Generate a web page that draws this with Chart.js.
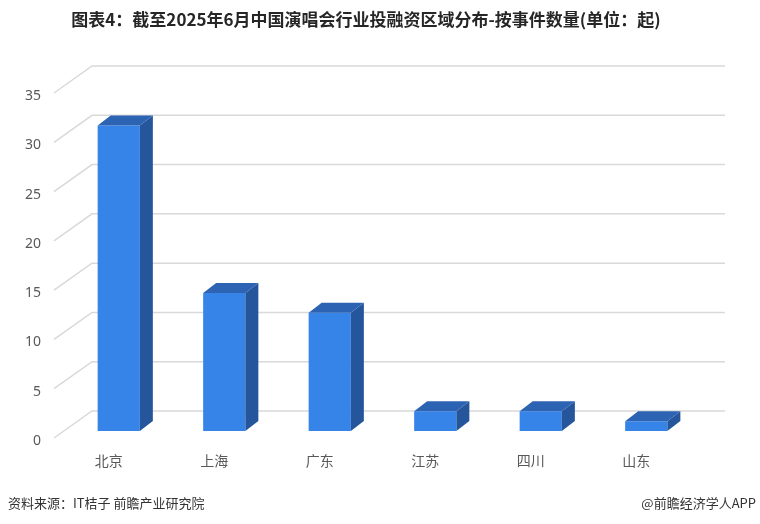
<!DOCTYPE html>
<html>
<head>
<meta charset="utf-8">
<script src="https://cdn.jsdelivr.net/npm/chart.js@4.4.1/dist/chart.umd.min.js"></script>
<style>
  html, body { margin: 0; padding: 0; background: #fff; }
  #wrap { width: 760px; height: 524px; }
</style>
</head>
<body>
<div id="wrap"><canvas id="chart"></canvas></div>
<script>
const categories = ['北京', '上海', '广东', '江苏', '四川', '山东'];
const counts = [31, 14, 12, 2, 2, 1];
const yMin = 0, yMax = 35, yStep = 5;

const titleText = '图表4：截至2025年6月中国演唱会行业投融资区域分布-按事件数量(单位：起)';
const sourceText = '资料来源：IT桔子 前瞻产业研究院';
const brandText = '@前瞻经济学人APP';

// depth offsets for the fake 3d look
const depth = { dx: 13, dy: -10 };
const wall = { frontX: -12, frontY: 7, backX: 26, backY: -20 };

const threeD = {
  id: 'threeD',
  beforeDatasetsDraw(chart) {
    const ctx = chart.ctx;
    const y = chart.scales.y;
    const area = chart.chartArea;
    ctx.save();
    ctx.strokeStyle = '#d9d9d9';
    ctx.lineWidth = 1.5;
    y.ticks.forEach(t => {
      const py = y.getPixelForValue(t.value);
      ctx.beginPath();
      ctx.moveTo(area.left + wall.frontX, py + wall.frontY);
      ctx.lineTo(area.left + wall.backX, py + wall.backY);
      ctx.lineTo(area.right + wall.backX, py + wall.backY);
      ctx.stroke();
    });
    ctx.restore();
  },
  afterDatasetsDraw(chart) {
    const ctx = chart.ctx;
    const meta = chart.getDatasetMeta(0);
    ctx.save();
    meta.data.forEach(bar => {
      const l = bar.x - bar.width / 2;
      const r = bar.x + bar.width / 2;
      const top = bar.y, base = bar.base;
      // side
      ctx.fillStyle = '#25559b';
      ctx.beginPath();
      ctx.moveTo(r, top);
      ctx.lineTo(r + depth.dx, top + depth.dy);
      ctx.lineTo(r + depth.dx, base + depth.dy);
      ctx.lineTo(r, base);
      ctx.closePath();
      ctx.fill();
      // top
      ctx.fillStyle = '#2c63b3';
      ctx.beginPath();
      ctx.moveTo(l, top);
      ctx.lineTo(l + depth.dx, top + depth.dy);
      ctx.lineTo(r + depth.dx, top + depth.dy);
      ctx.lineTo(r, top);
      ctx.closePath();
      ctx.fill();
    });
    ctx.restore();
  },
  afterDraw(chart) {
    const ctx = chart.ctx;
    ctx.save();
    ctx.fillStyle = '#262626';
    ctx.font = 'bold 17px "Noto Sans CJK SC"';
    ctx.textAlign = 'center';
    ctx.textBaseline = 'middle';
    ctx.fillText(titleText, 366, 20);
    ctx.font = '13px "Noto Sans CJK SC"';
    ctx.fillStyle = '#333';
    ctx.textAlign = 'left';
    ctx.fillText(sourceText, 8, 503);
    ctx.textAlign = 'right';
    ctx.fillText(brandText, 756, 503);
    ctx.restore();
  }
};

new Chart(document.getElementById('chart'), {
  type: 'bar',
  data: {
    labels: categories,
    datasets: [{
      data: counts,
      backgroundColor: '#3784e8',
      barPercentage: 0.4,
      categoryPercentage: 1
    }]
  },
  options: {
    responsive: true,
    maintainAspectRatio: false,
    animation: false,
    layout: { padding: { left: 0, right: 61, top: 86, bottom: 33 } },
    plugins: {
      legend: { display: false },
      title: { display: false },
      tooltip: { enabled: false }
    },
    scales: {
      x: {
        grid: { display: false, drawTicks: false },
        border: { display: false },
        afterFit(s) { s.height = 60; },
        ticks: {
          color: '#595959',
          font: { size: 14, family: '"Noto Sans CJK SC"' },
          padding: 21,
          labelOffset: -10
        }
      },
      y: {
        min: yMin,
        max: yMax,
        grid: { display: false, drawTicks: false },
        border: { display: false },
        afterFit(s) { s.width = 66; },
        ticks: {
          stepSize: yStep,
          color: '#595959',
          font: { size: 14, family: '"Noto Sans"' },
          padding: 25,
          labelOffset: 10
        }
      }
    }
  },
  plugins: [threeD]
});
</script>
</body>
</html>
